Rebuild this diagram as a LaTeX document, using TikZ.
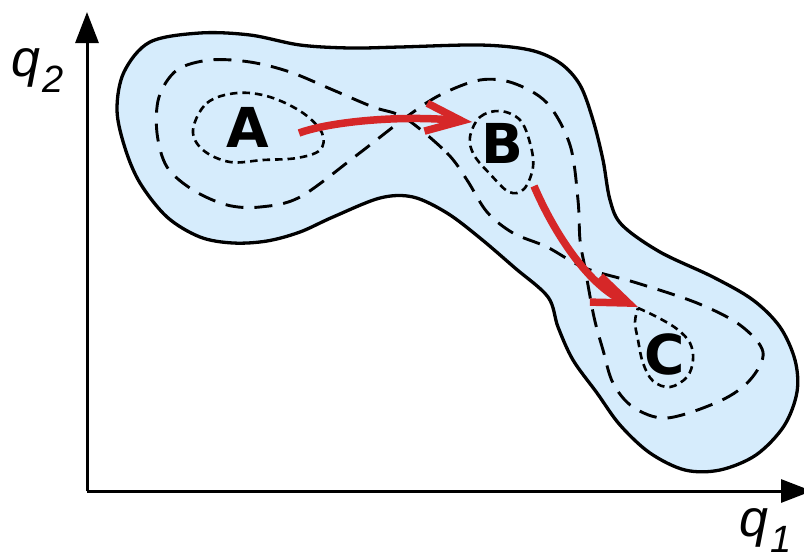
\documentclass[tikz,border=0pt]{standalone}
\usepackage{fontspec}
\setmainfont{Liberation Sans}
\newfontfamily\statefont{DejaVu Sans}
\usetikzlibrary{arrows.meta}

\definecolor{regionfill}{RGB}{214,236,252}
\definecolor{pathred}{RGB}{214,39,40}

\tikzset{
  axis/.style={line width=3pt, -{Triangle[length=31pt,width=23pt]}},
  region/.style={line width=3.3pt, fill=regionfill},
  levelset/.style={line width=2.9pt, dash pattern=on 18pt off 11pt},
  basin/.style={line width=2.6pt, dash pattern=on 7.5pt off 5pt},
  transition/.style={line width=7.5pt, pathred, -{Straight Barb[length=36pt,width=28pt]}},
  statelabel/.style={font=\statefont\bfseries\fontsize{55}{55}\selectfont, inner sep=0pt},
  axislabel/.style={inner sep=0pt, anchor=base west}
}

\newcommand{\axisname}[2]{{\fontsize{52}{52}\selectfont\itshape #1\kern2pt\raisebox{-16pt}{\fontsize{38}{38}\selectfont #2}}}

\begin{document}
\begin{tikzpicture}[x=1pt, y=-1pt]
\useasboundingbox (0,0) rectangle (804,558);

% accessible region
\draw[region] plot[smooth cycle, tension=0.55] coordinates {
  (117,110) (124,72) (150,42) (200,33) (250,35) (300,45) (350,48) (400,47)
  (480,45) (530,50) (560,63) (580,85) (593,120) (603,160) (610,200)
  (622,225) (660,252) (713,277) (753,300) (780,327) (795,360) (797,392)
  (784,426) (756,455) (720,470) (685,470) (650,453) (620,425) (597,393)
  (573,360) (558,327) (548,297) (515,268) (480,238) (447,213) (413,197)
  (380,198) (333,217) (300,232) (267,241) (233,243) (200,237) (167,217)
  (140,183) (125,148)};

% level set through the two saddles
\draw[levelset] plot[smooth cycle, tension=0.55] coordinates {
  (405,118) (447,153) (467,180) (487,212) (513,233) (547,247) (585,268)
  (637,283) (697,303) (740,325) (763,352) (750,380) (720,401) (667,418)
  (633,407) (613,383) (603,350) (594,317) (585,268) (580,240) (578,200)
  (570,145) (547,103) (513,83) (480,80) (440,95) (405,118) (357,155)
  (300,197) (260,207) (227,205) (193,190) (167,167) (157,133) (159,97)
  (177,70) (210,60) (250,62) (290,72) (333,90) (373,107)};

% basins of the three minima
\draw[basin] plot[smooth cycle, tension=0.6] coordinates {
  (193,130) (207,103) (237,93) (270,97) (303,113) (322,133) (320,150)
  (297,158) (263,160) (230,162) (203,150)};
\draw[basin] plot[smooth cycle, tension=0.6] coordinates {
  (470,137) (480,117) (500,111) (520,120) (530,143) (533,167) (524,189)
  (509,192) (490,174) (474,155)};
\draw[basin] plot[smooth, tension=0.6] coordinates {
  (638,308) (657,317) (677,329) (690,343) (693,360) (687,377) (670,387)
  (653,381) (643,363) (638,340) (635,322) (638,308)};

% coordinate axes
\coordinate (origin) at (87,491);
\coordinate (yend) at (87,12);
\coordinate (xend) at (812,491);
\draw[axis] (origin) -- (yend);
\draw[axis] (origin) -- (xend);
\node[axislabel] (q2) at (11,76) {\axisname{q}{2}};
\node[axislabel] (q1) at (739,536) {\axisname{q}{1}};

% states
\node[statelabel] (A) at (248,127) {A};
\node[statelabel] (B) at (502,143) {B};
\node[statelabel] (C) at (665,354) {C};

% transition paths
\coordinate (a-exit) at (299,133);
\coordinate (b-entry) at (472,122);
\coordinate (b-exit) at (534,186);
\coordinate (c-entry) at (638,307);
\draw[transition] (a-exit) .. controls (332,121) and (405,115) .. (b-entry);
\draw[transition] (b-exit) .. controls (555,235) and (590,287) .. (c-entry);
\end{tikzpicture}
\end{document}
